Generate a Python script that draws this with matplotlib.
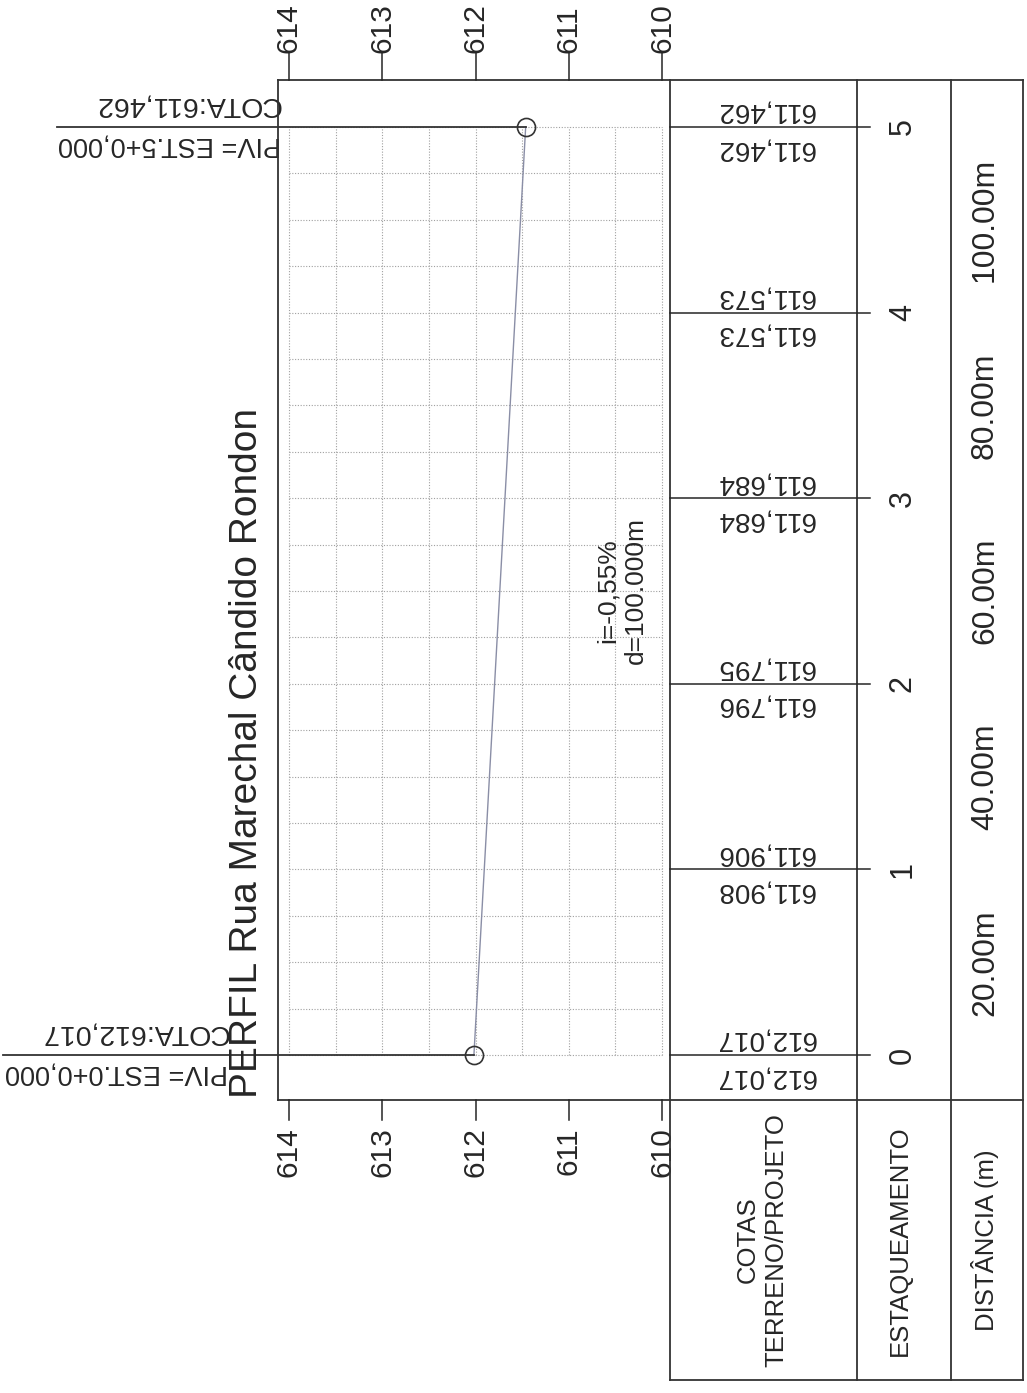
import numpy as np
import matplotlib
matplotlib.use("Agg")
import matplotlib.pyplot as plt
from matplotlib.lines import Line2D
from matplotlib.transforms import blended_transform_factory, offset_copy

plt.rcParams['font.family'] = ['Liberation Sans', 'DejaVu Sans']

# === dados do perfil ===
estacas = [0, 1, 2, 3, 4, 5]
distancias = [0, 20, 40, 60, 80, 100]          # m
cota_projeto = [612.017, 611.906, 611.795, 611.684, 611.573, 611.462]
cota_terreno = [612.017, 611.908, 611.796, 611.684, 611.573, 611.462]
piv_estaca = [0, 5]
piv_dist = [0, 100]
piv_cota = [612.017, 611.462]
cotas_eixo = [614, 613, 612, 611, 610]
rampa_txt = "i=-0,55%\nd=100.000m"
titulo = "PERFIL Rua Marechal Cândido Rondon"

W, H = 1027, 1393
def fx(px): return px / W
def fy(py): return 1 - py / H

def br(v):
    return f"{v:.3f}".replace('.', ',')

ink = '#262626'
fs = 19.5

fig = plt.figure(figsize=(W / 100, H / 100), dpi=100)
ax = fig.add_axes([fx(289), fy(1055), fx(662) - fx(289), fy(127) - fy(1055)])
ax.set_xlim(614, 610)
ax.set_ylim(0, 100)
ax.set_xticks(np.arange(610, 614.01, 0.5))
ax.set_yticks(np.arange(0, 100.1, 5))
ax.tick_params(length=0, labelbottom=False, labelleft=False)
ax.grid(True, ls=(0, (1, 1.5)), lw=0.8, color='#a0a0a0')
for s in ax.spines.values():
    s.set_visible(False)
for g in ax.get_xgridlines() + ax.get_ygridlines():
    g.set_clip_on(False)

# x = cota, y = figura  /  x = figura, y = distancia
t_cota = blended_transform_factory(ax.transData, fig.transFigure)
t_dist = blended_transform_factory(fig.transFigure, ax.transData)

# moldura e quadro
lk = dict(color='#333333', lw=1.3)
fig.add_artist(Line2D([fx(278), fx(1023)], [fy(80), fy(80)], **lk))
fig.add_artist(Line2D([fx(278), fx(1023)], [fy(1100), fy(1100)], **lk))
fig.add_artist(Line2D([fx(278), fx(278)], [fy(80), fy(1100)], **lk))
for px in [670, 857, 951, 1023]:
    fig.add_artist(Line2D([fx(px), fx(px)], [fy(80), fy(1380)], **lk))
fig.add_artist(Line2D([fx(670), fx(1023)], [fy(1380), fy(1380)], **lk))

# escala de cotas (topo e base)
for c in cotas_eixo:
    fig.add_artist(Line2D([c, c], [fy(53), fy(80)], transform=t_cota, color=ink, lw=1.1))
    fig.add_artist(Line2D([c, c], [fy(1100), fy(1120)], transform=t_cota, color=ink, lw=1.1))
    ax.text(c, fy(53), str(c), transform=t_cota, rotation=90, ha='center', va='bottom',
            fontsize=21.5, color=ink)
    ax.text(c, fy(1127), str(c), transform=t_cota, rotation=90, ha='center', va='top',
            fontsize=21.5, color=ink)

# greide
ax.plot(piv_cota, piv_dist, color='#8a8ea6', lw=1.0, clip_on=False, zorder=3)
ax.plot(piv_cota, piv_dist, 'o', mfc='none', mec='#333333', ms=13, mew=1.2,
        clip_on=False, zorder=4)
ax.text(610.43, 50, rampa_txt, rotation=90, ha='center', va='center',
        multialignment='center', fontsize=19, color=ink)

# linhas e rotulos dos PIV
piv_ini = [3, 57]
piv_dir = [228, 281]
for k in range(len(piv_estaca)):
    d, c = piv_dist[k], piv_cota[k]
    xe = fig.transFigure.inverted().transform(ax.transData.transform((c, d)))[0]
    fig.add_artist(Line2D([fx(piv_ini[k]), xe], [d, d], transform=t_dist, **lk))
    ax.text(fx(piv_dir[k]), d, f"COTA:{br(c)}",
            transform=offset_copy(t_dist, fig=fig, y=29, units='dots'),
            rotation=180, rotation_mode='anchor', ha='left', va='baseline',
            fontsize=20.5, color=ink)
    ax.text(fx(piv_dir[k]), d, f"PIV= EST.{piv_estaca[k]}+0,000",
            transform=offset_copy(t_dist, fig=fig, y=-11, units='dots'),
            rotation=180, rotation_mode='anchor', ha='left', va='baseline',
            fontsize=fs, color=ink)

# quadro: cotas, estacas, distancias
for k in range(len(estacas)):
    d = distancias[k]
    fig.add_artist(Line2D([fx(670), fx(870)], [d, d], transform=t_dist, color=ink, lw=1.1))
    ax.text(fx(765), d, br(cota_projeto[k]),
            transform=offset_copy(t_dist, fig=fig, y=23, units='dots'),
            rotation=180, rotation_mode='anchor', ha='center', va='baseline',
            fontsize=20, color=ink)
    ax.text(fx(765), d, br(cota_terreno[k]),
            transform=offset_copy(t_dist, fig=fig, y=-14, units='dots'),
            rotation=180, rotation_mode='anchor', ha='center', va='baseline',
            fontsize=20, color=ink)
    ax.text(fx(903), d, str(estacas[k]), transform=t_dist, rotation=90,
            ha='center', va='center', fontsize=22, color=ink)

for k in range(1, len(distancias)):
    dm = (distancias[k - 1] + distancias[k]) / 2
    ax.text(fx(985), dm, f"{distancias[k]:.2f}m", transform=t_dist, rotation=90,
            ha='center', va='center', fontsize=23, color=ink)

# cabecalho do quadro
fig.text(fx(762), fy(1240), "COTAS\nTERRENO/PROJETO", rotation=90, ha='center',
         va='center', multialignment='center', fontsize=18.5, color=ink)
fig.text(fx(900), fy(1241), "ESTAQUEAMENTO", rotation=90, ha='center', va='center',
         fontsize=18.5, color=ink)
fig.text(fx(985), fy(1240), "DISTÂNCIA (m)", rotation=90, ha='center', va='center',
         fontsize=18.5, color=ink)

# titulo
fig.text(fx(257), fy(1098), titulo, rotation=90, rotation_mode='anchor',
         ha='left', va='baseline', fontsize=28, color=ink)

fig.savefig("out.png", dpi=100, facecolor='white')
